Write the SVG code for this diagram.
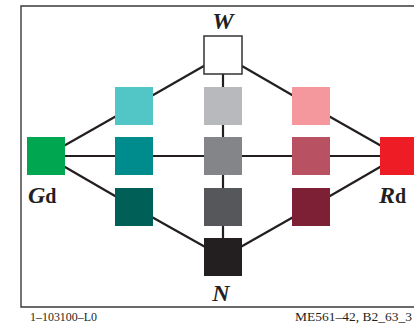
<svg xmlns="http://www.w3.org/2000/svg" width="414" height="332" viewBox="0 0 414 332">
<style>
.frame{fill:none;stroke:#3a3a3a;stroke-width:1.4}
.edge{stroke:#231f20;stroke-width:2.2;fill:none}
.lbl{font-family:"Liberation Serif",serif;font-weight:bold;font-style:italic;font-size:24px;fill:#231f20}
.sub{font-family:"Liberation Serif",serif;font-weight:bold;font-style:normal;font-size:20px;fill:#231f20}
.foot{font-family:"Liberation Serif",serif;font-size:11.5px;fill:#231f20}
</style>
<rect width="414" height="332" fill="#ffffff"/>
<path class="frame" d="M414,6 H21 V307 H414"/>
<g id="connectors">
<line class="edge" x1="223" y1="55" x2="134" y2="106"/>
<line class="edge" x1="223" y1="55" x2="223" y2="257"/>
<line class="edge" x1="223" y1="55" x2="311" y2="106"/>
<line class="edge" x1="134" y1="106" x2="46" y2="156"/>
<line class="edge" x1="311" y1="106" x2="399" y2="156"/>
<line class="edge" x1="46" y1="156" x2="399" y2="156"/>
<line class="edge" x1="46" y1="156" x2="134" y2="207"/>
<line class="edge" x1="399" y1="156" x2="311" y2="207"/>
<line class="edge" x1="134" y1="207" x2="223" y2="257"/>
<line class="edge" x1="311" y1="207" x2="223" y2="257"/>
</g>
<g id="W"><rect x="204" y="36" width="38" height="38" fill="#ffffff" stroke="#333" stroke-width="1.5"/><text class="lbl" x="223" y="29" text-anchor="middle">W</text></g>
<g id="c1"><rect x="115" y="87" width="38" height="38" fill="#52c5c6"/></g>
<g id="g1"><rect x="204" y="87" width="38" height="38" fill="#b8b9bd"/></g>
<g id="p1"><rect x="292" y="87" width="38" height="38" fill="#f5989d"/></g>
<g id="Gd"><rect x="27" y="137" width="38" height="38" fill="#00a650"/><text x="28" y="203"><tspan class="lbl">G</tspan><tspan class="sub">d</tspan></text></g>
<g id="c2"><rect x="115" y="137" width="38" height="38" fill="#008c8c"/></g>
<g id="g2"><rect x="204" y="137" width="38" height="38" fill="#838589"/></g>
<g id="p2"><rect x="292" y="137" width="38" height="38" fill="#b85262"/></g>
<g id="Rd"><rect x="380" y="137" width="38" height="38" fill="#ee1d25"/><text x="379" y="203"><tspan class="lbl">R</tspan><tspan class="sub">d</tspan></text></g>
<g id="c3"><rect x="115" y="188" width="38" height="38" fill="#006058"/></g>
<g id="g3"><rect x="204" y="188" width="38" height="38" fill="#56575b"/></g>
<g id="p3"><rect x="292" y="188" width="38" height="38" fill="#7e2035"/></g>
<g id="N"><rect x="204" y="238" width="38" height="38" fill="#231f20"/><text class="lbl" x="221" y="301" text-anchor="middle">N</text></g>
<text class="foot" x="30" y="320.5" textLength="67" lengthAdjust="spacingAndGlyphs">1–103100–L0</text>
<text class="foot" x="295" y="320.5" textLength="117" lengthAdjust="spacingAndGlyphs">ME561–42, B2_63_3</text>
</svg>
